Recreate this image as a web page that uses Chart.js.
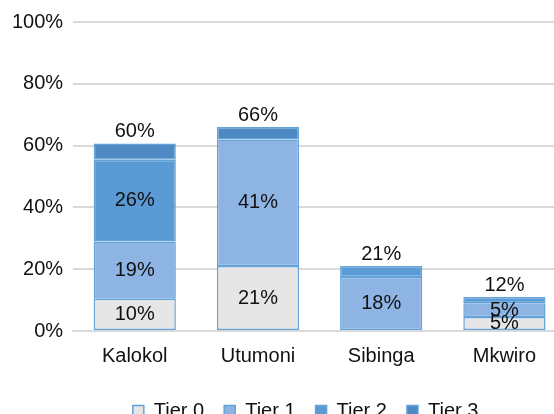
<!DOCTYPE html>
<html><head><meta charset="utf-8">
<script src="https://cdn.jsdelivr.net/npm/chart.js@4.4.1/dist/chart.umd.min.js"></script>
<style>html,body{margin:0;padding:0;overflow:hidden;background:#fff;width:554px;height:414px}
canvas{position:absolute;left:0;top:0}</style></head>
<body><canvas id="c" width="610" height="436"></canvas>
<script>
const categories = ['Kalokol', 'Utumoni', 'Sibinga', 'Mkwiro'];
const seriesNames = ['Tier 0', 'Tier 1', 'Tier 2', 'Tier 3'];
const tier0 = [10.4, 21, 0, 4.5];
const tier1 = [18.6, 41, 17.5, 4.5];
const tier2 = [26.4, 0, 3.5, 2];
const tier3 = [5.3, 4, 0, 0];
const totals = [60, 66, 21, 12];
const yTickValues = [0, 20, 40, 60, 80, 100];

const fills = ['#e7e6e6', '#8db4e2', '#5b9bd5', '#4f89c4'];
const FONT = '"Liberation Sans", Arial, sans-serif';
const FS = 20;
const TXT = '#111111';

const seriesData = [tier0, tier1, tier2, tier3];
const datasets = seriesNames.map((n, k) => ({
  label: n,
  data: seriesData[k],
  backgroundColor: fills[k],
  borderColor: '#64a2da',
  borderWidth: 1.5,
  borderSkipped: false,
  barPercentage: 1,
  categoryPercentage: 0.667
}));

const labelPlugin = {
  id: 'segLabels',
  afterLayout(chart) {
    if (chart.legend) { chart.legend.left -= 14; chart.legend.right -= 14; }
  },
  afterDatasetsDraw(chart) {
    const ctx = chart.ctx;
    ctx.save();
    ctx.font = FS + 'px ' + FONT;
    ctx.fillStyle = TXT;
    ctx.textAlign = 'center';
    ctx.textBaseline = 'middle';
    chart.data.datasets.forEach((ds, di) => {
      if (di > 2) return;
      const meta = chart.getDatasetMeta(di);
      meta.data.forEach((bar, i) => {
        const v = ds.data[i];
        if (v < 4.5) return;
        ctx.fillText(Math.round(v) + '%', bar.x, (bar.y + bar.base) / 2);
      });
    });
    const ys = chart.scales.y;
    const meta0 = chart.getDatasetMeta(0);
    categories.forEach((c, i) => {
      let sum = 0;
      seriesData.forEach(s => sum += s[i]);
      const top = ys.getPixelForValue(sum);
      ctx.fillText(totals[i] + '%', meta0.data[i].x, top - 12);
    });
    ctx.restore();
  }
};

new Chart(document.getElementById('c'), {
  type: 'bar',
  data: { labels: categories, datasets },
  options: {
    responsive: false,
    devicePixelRatio: 1,
    animation: false,
    layout: { padding: { left: 2, right: 44, top: 22, bottom: 5 } },
    plugins: {
      legend: {
        position: 'bottom',
        fullSize: false,
        labels: { boxWidth: 11, boxHeight: 11, padding: 20, color: TXT, font: { size: FS, family: FONT } }
      },
      tooltip: { enabled: false }
    },
    scales: {
      x: {
        stacked: true,
        grid: { display: false, drawTicks: false },
        border: { display: true, color: '#d9d9d9', width: 2 },
        ticks: { color: TXT, padding: 13, font: { size: FS, family: FONT } }
      },
      y: {
        stacked: true,
        min: 0, max: 100,
        afterBuildTicks(scale) { scale.ticks = yTickValues.map(v => ({ value: v })); },
        grid: { color: '#d9d9d9', lineWidth: 2, drawTicks: false },
        border: { display: false },
        ticks: { color: TXT, padding: 10, font: { size: FS, family: FONT }, callback: v => v + '%' }
      }
    }
  },
  plugins: [labelPlugin]
});
</script>
</body></html>
